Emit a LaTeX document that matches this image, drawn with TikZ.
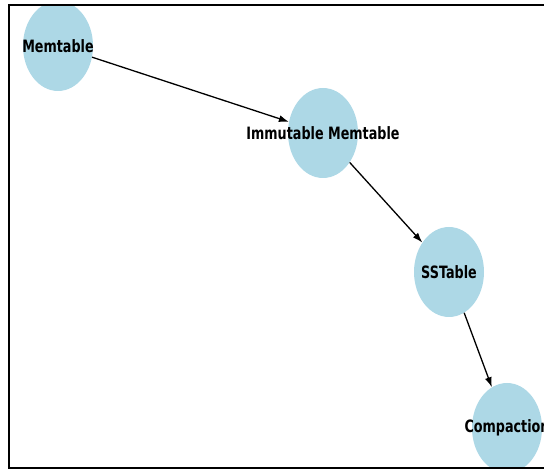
\documentclass[tikz,border=0pt]{standalone}
\usepackage{fontspec}
\setmainfont{DejaVu Sans}
\usetikzlibrary{shapes.geometric, arrows.meta}
\definecolor{nodeblue}{HTML}{ADD8E6}
\newcommand{\squashed}[1]{\scalebox{0.75}[1]{#1}}

\begin{document}
\begin{tikzpicture}[x=1pt, y=-1pt,
    bubble/.style={ellipse, fill=nodeblue, draw=none, inner sep=0pt,
        minimum width=70pt, minimum height=90pt},
    bubtext/.style={font=\fontsize{17}{19}\selectfont\bfseries, text=black},
    flow/.style={-{Latex[length=10pt,width=7pt]}, line width=1.3pt, black}]
\useasboundingbox (0,0) rectangle (544,470);
\begin{scope}
\clip (9,5) rectangle (560,468);
% Stages of the write path
\node[bubble, label={[bubtext]center:\squashed{Memtable}}] (mem) at (58,46) {};
\node[bubble, label={[bubtext]center:\squashed{Immutable Memtable}}] (imm) at (323,133) {};
\node[bubble, label={[bubtext]center:\squashed{SSTable}}] (sst) at (449,272) {};
\node[bubble, label={[bubtext]center:\squashed{Compaction}}] (cmp) at (507,428) {};
% Edges
\draw[flow] (mem) -- (imm);
\draw[flow] (imm) -- (sst);
\draw[flow] (sst) -- (cmp);
\end{scope}
% Frame
\draw[line width=2pt] (560,5) -- (9,5) -- (9,468) -- (560,468);
\end{tikzpicture}
\end{document}
